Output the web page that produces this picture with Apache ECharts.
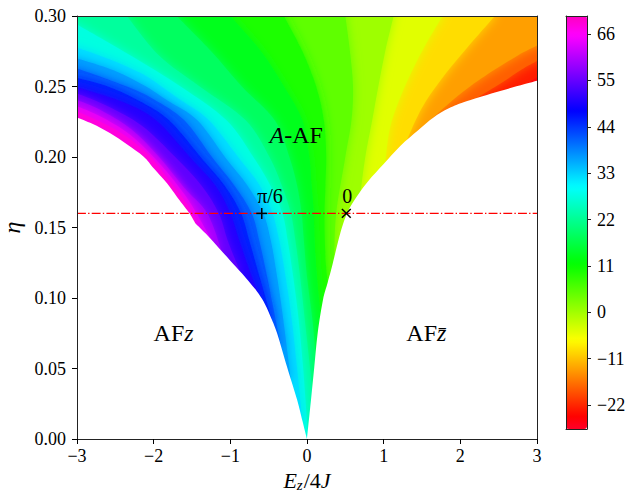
<!DOCTYPE html>
<html><head><meta charset="utf-8">
<script src="https://cdn.jsdelivr.net/npm/echarts@6/dist/echarts.min.js"></script>
<style>html,body{margin:0;padding:0;background:#fff}#c{width:632px;height:493px}</style>
</head><body><div id="c"></div>
<script>
// ---------------- data ----------------
const xTicks = [-3, -2, -1, 0, 1, 2, 3];
const yTicks = [0, 0.05, 0.1, 0.15, 0.2, 0.25, 0.3];
const cbarTicks = [-22, -11, 0, 11, 22, 33, 44, 55, 66];
const cbarMin = -27.7, cbarMax = 70.3;

// boundary of the A-AF region (Ez/4J, eta); the left one has a kink
const leftBoundaryLow = [[0,0],[-0.06,0.013],[-0.13,0.028],[-0.26,0.051],[-0.39,0.075],[-0.48,0.0875],[-0.566,0.0975],[-0.65,0.1045],[-0.75,0.1112],[-0.85,0.1175],[-1.0,0.1265],[-1.15,0.1355],[-1.3,0.1445],[-1.457,0.153]];
const leftBoundaryUp = [[-1.457,0.153],[-1.52,0.159],[-1.565,0.1624],[-1.7,0.172],[-1.826,0.1813],[-2.0,0.192],[-2.13,0.2002],[-2.35,0.209],[-2.566,0.2168],[-2.8,0.2235],[-3.0,0.228]];
const rightBoundary = [[0,0],[0.052,0.0277],[0.095,0.051],[0.139,0.075],[0.208,0.0986],[0.27,0.111],[0.326,0.1223],[0.434,0.1459],[0.53,0.161],[0.65,0.172],[0.8,0.183],[1.0,0.195],[1.22,0.208],[1.45,0.219],[1.65,0.228],[1.85,0.2345],[2.09,0.2397],[2.52,0.2468],[3.0,0.254]];

// contour levels and the iso-lines read at those levels
const levels = [-25, -20, -16, -11, -7, -2, 2.5, 7, 11.5, 16, 20.5, 25, 30, 34, 39, 43, 48, 52, 57, 61, 66];
const isoN25 = [[2.85,0.2518],[3.0,0.257]];
const isoN20 = [[2.2,0.2415],[2.55,0.253],[2.8,0.262],[3.0,0.268]];
const isoN16 = [[1.6,0.2258],[1.85,0.238],[2.1,0.249],[2.45,0.262],[2.75,0.272],[3.0,0.279]];
const isoN11 = [[1.3,0.2118],[1.5,0.235],[1.75,0.255],[2.05,0.275],[2.45,0.3]];
const isoN7  = [[1.02,0.1962],[1.08,0.22],[1.2,0.24],[1.36,0.26],[1.55,0.28],[1.77,0.3]];
const isoN2  = [[0.7,0.1757],[0.76,0.2],[0.85,0.226],[0.93,0.25],[1.02,0.275],[1.13,0.3]];
const isoP2  = [[0.355,0.1288],[0.38,0.16],[0.5,0.2],[0.58,0.226],[0.6,0.25],[0.56,0.275],[0.5,0.3]];
const isoP7  = [[0.27,0.111],[0.24,0.13],[0.23,0.16],[0.25,0.2],[0.22,0.226],[0.12,0.25],[-0.06,0.275],[-0.3,0.3]];
const isoP11 = [[0.177,0.088],[0.13,0.115],[0.1,0.14],[0.09,0.16],[0.06,0.18],[0.03,0.2],[-0.06,0.226],[-0.3,0.25],[-0.6,0.275],[-1.0,0.3]];
const isoP16 = [[0.112,0.06],[0.07,0.085],[0.0,0.115],[-0.04,0.14],[-0.07,0.16],[-0.13,0.18],[-0.23,0.2],[-0.42,0.226],[-0.85,0.25],[-1.25,0.275],[-1.7,0.3]];
const isoP20 = [[0.066,0.035],[0.04,0.05],[-0.03,0.085],[-0.09,0.115],[-0.15,0.14],[-0.21,0.16],[-0.33,0.18],[-0.49,0.2],[-0.8,0.226],[-1.4,0.25],[-1.93,0.272],[-2.35,0.3]];
const isoP25 = [[0.01,0.005],[-0.05,0.05],[-0.11,0.085],[-0.18,0.115],[-0.25,0.14],[-0.32,0.16],[-0.48,0.18],[-0.7,0.2],[-1.05,0.226],[-1.65,0.25],[-2.3,0.272],[-3.0,0.294]];
const isoP30 = [[-0.06,0.013],[-0.13,0.05],[-0.2,0.085],[-0.28,0.115],[-0.36,0.14],[-0.45,0.16],[-0.62,0.18],[-0.9,0.2],[-1.28,0.226],[-1.64,0.24],[-1.9,0.25],[-2.14,0.2586],[-2.575,0.2693],[-3.0,0.2775]];
const isoP34 = [[-0.21,0.0422],[-0.31,0.085],[-0.39,0.115],[-0.47,0.14],[-0.57,0.16],[-0.78,0.18],[-1.07,0.2],[-1.43,0.226],[-1.82,0.24],[-2.1,0.25],[-2.5,0.261],[-3.0,0.27]];
const isoP39 = [[-0.34,0.066],[-0.41,0.085],[-0.52,0.115],[-0.62,0.14],[-0.72,0.16],[-0.95,0.18],[-1.24,0.2],[-1.6,0.226],[-2.0,0.241],[-2.35,0.25],[-3.0,0.263]];
const isoP43 = [[-0.46,0.0847],[-0.54,0.1],[-0.62,0.115],[-0.75,0.14],[-0.86,0.16],[-1.08,0.18],[-1.39,0.2],[-1.8,0.226],[-2.2,0.24],[-2.6,0.25],[-3.0,0.256]];
const isoP48 = [[-0.62,0.1015],[-0.72,0.115],[-0.88,0.14],[-1.0,0.16],[-1.2,0.18],[-1.53,0.2],[-1.97,0.226],[-2.4,0.239],[-3.0,0.2495]];
const isoP52 = [[-0.87,0.1183],[-1.03,0.14],[-1.15,0.16],[-1.38,0.18],[-1.72,0.2],[-2.15,0.222],[-2.6,0.236],[-3.0,0.245]];
const isoP57 = [[-1.11,0.1331],[-1.3,0.16],[-1.6,0.178],[-1.93,0.2],[-2.3,0.22],[-2.7,0.2335],[-3.0,0.2405]];
const isoP61 = [[-1.25,0.1415],[-1.42,0.158],[-1.6,0.1735],[-1.9,0.194],[-2.3,0.2155],[-2.7,0.2289],[-3.0,0.236]];
const isoP66 = [[-1.44,0.152],[-1.52,0.163],[-1.8,0.1835],[-2.1,0.2033],[-2.5,0.2195],[-3.0,0.2325]];

// horizontal cut and marked points
const cutX = [-3, 3];
const cutEta = 0.16;
const markerX = [-0.59, 0.513];
const markerY = [0.16, 0.16];
const markerKind = ['plus', 'cross'];
const markerLabel = ['π/6', '0'];
const markerLabelX = [-0.65, 0.46];
const markerLabelY = [0.1725, 0.1725];

// phase names
const phaseText = ['{i|A}-AF', 'AF{i|z\u0304}', 'AF{i|z}'];
const phaseX = [-0.14, 1.556, -1.74];
const phaseY = [0.2156, 0.0755, 0.0755];

// ---------------- drawing ----------------
const isolines = [isoN25, isoN20, isoN16, isoN11, isoN7, isoN2, isoP2, isoP7, isoP11, isoP16, isoP20,
                  isoP25, isoP30, isoP34, isoP39, isoP43, isoP48, isoP52, isoP57, isoP61, isoP66];
const FONT = "'Liberation Serif', 'DejaVu Serif', serif";

// gist_rainbow colormap
const GR = [[0,[1,0,0.16]],[0.03,[1,0,0]],[0.215,[1,1,0]],[0.4,[0,1,0]],[0.586,[0,1,1]],[0.77,[0,0,1]],[0.954,[1,0,1]],[1,[1,0,0.75]]];
function cmapHex(t) {
  t = Math.max(0, Math.min(1, t));
  let k = 0;
  while (k < GR.length - 2 && t > GR[k + 1][0]) k++;
  const a = GR[k], b = GR[k + 1];
  const f = (t - a[0]) / (b[0] - a[0]);
  const c = a[1].map((v, j) => Math.round(255 * (v + (b[1][j] - v) * f)));
  return '#' + c.map(v => v.toString(16).padStart(2, '0')).join('');
}
const ramp = [];
for (let k = 0; k <= 96; k++) ramp.push(cmapHex(k / 96));

const bandData = [[(cbarMin + levels[0]) / 2, -1]].concat(
  levels.map((L, i) => [(L + (i + 1 < levels.length ? levels[i + 1] : cbarMax)) / 2, i]));

const fmtMinus = v => (v < 0 ? '\u2212' + Math.abs(v) : String(v));

// smooth (Catmull-Rom) path through pixel points
function smoothPath(P, moveFirst) {
  let d = (moveFirst ? 'M' : 'L') + P[0][0].toFixed(2) + ',' + P[0][1].toFixed(2);
  for (let i = 0; i < P.length - 1; i++) {
    const p0 = P[Math.max(0, i - 1)], p1 = P[i], p2 = P[i + 1], p3 = P[Math.min(P.length - 1, i + 2)];
    const c1 = [p1[0] + (p2[0] - p0[0]) / 6, p1[1] + (p2[1] - p0[1]) / 6];
    const c2 = [p2[0] - (p3[0] - p1[0]) / 6, p2[1] - (p3[1] - p1[1]) / 6];
    d += 'C' + c1.map(v => v.toFixed(2)).join(',') + ' ' + c2.map(v => v.toFixed(2)).join(',') + ' ' + p2.map(v => v.toFixed(2)).join(',');
  }
  return d;
}
const linePath = P => P.map(p => 'L' + p[0].toFixed(2) + ',' + p[1].toFixed(2)).join('');

function bandPath(iso, api) {
  const s = iso[0], e = iso[iso.length - 1];
  const far = [];
  if (e[1] >= 0.2999) { far.push([e[0], 0.34], [-3.6, 0.34]); }
  else if (e[0] <= -2.999) { far.push([-3.6, e[1]]); }
  else if (e[0] >= 2.999) { far.push([3.6, e[1]], [3.6, 0.34], [-3.6, 0.34]); }
  far.push([-3.6, -0.04]);
  if (s[0] > 0) far.push([s[0], -0.04]);
  return smoothPath(iso.map(p => api.coord(p)), true) + linePath(far.map(p => api.coord(p))) + 'Z';
}

const lineAxis = (grid, pos, extra) => Object.assign({
  gridIndex: grid, type: 'value', position: pos, z: 10,
  axisLine: { show: true, onZero: false, lineStyle: { color: '#222', width: 1 } },
  axisTick: { show: false }, axisLabel: { show: false }, splitLine: { show: false }
}, extra || {});

const chart = echarts.init(document.getElementById('c'), null, { renderer: 'svg' });
chart.setOption({
  animation: false,
  backgroundColor: '#fff',
  textStyle: { fontFamily: FONT },
  grid: [
    { left: 77, top: 16, width: 460, height: 423, outerBoundsMode: 'none', containLabel: false },
    { left: 566, top: 16, width: 21, height: 413, outerBoundsMode: 'none', containLabel: false }
  ],
  xAxis: [
    lineAxis(0, 'bottom', {
      min: xTicks[0], max: xTicks[xTicks.length - 1], interval: 1,
      axisTick: { show: true, length: 5, lineStyle: { color: '#000' } },
      axisLabel: { show: true, fontFamily: FONT, fontSize: 18, color: '#000', margin: 8, formatter: fmtMinus },
      name: '{i|E}{s|z}{n|/4}{i|J}', nameLocation: 'middle', nameGap: 27,
      nameTextStyle: { fontFamily: FONT, fontSize: 22, color: '#000',
        rich: { i: { fontFamily: FONT, fontSize: 22, fontStyle: 'italic', color: '#000' },
                n: { fontFamily: FONT, fontSize: 22, color: '#000' },
                s: { fontFamily: FONT, fontSize: 15, fontStyle: 'italic', color: '#000', padding: [8, 1, 0, 0] } } }
    }),
    lineAxis(0, 'top', { min: -3, max: 3 }),
    lineAxis(1, 'bottom', { min: 0, max: 1 }),
    lineAxis(1, 'top', { min: 0, max: 1 })
  ],
  yAxis: [
    lineAxis(0, 'left', {
      min: yTicks[0], max: yTicks[yTicks.length - 1], interval: 0.05,
      axisTick: { show: true, length: 5, lineStyle: { color: '#000' } },
      axisLabel: { show: true, fontFamily: FONT, fontSize: 18, color: '#000', margin: 11, formatter: v => v.toFixed(2) },
      name: 'η', nameLocation: 'middle', nameGap: 47, nameRotate: 90,
      nameTextStyle: { fontFamily: FONT, fontSize: 24, fontStyle: 'italic', color: '#000' }
    }),
    lineAxis(0, 'right', { min: 0, max: 0.3 }),
    lineAxis(1, 'left', { min: cbarMin, max: cbarMax }),
    lineAxis(1, 'right', {
      min: cbarMin, max: cbarMax,
      axisTick: { show: true, length: 4, customValues: cbarTicks, lineStyle: { color: '#222' } },
      axisLabel: { show: true, customValues: cbarTicks, fontFamily: FONT, fontSize: 18, color: '#000', margin: 10, formatter: fmtMinus }
    })
  ],
  visualMap: {
    type: 'continuous', min: cbarMin, max: cbarMax, dimension: 0, seriesIndex: 0,
    inRange: { color: ramp }, calculable: false, orient: 'vertical',
    left: 566, top: 16, itemWidth: 21, itemHeight: 413, padding: 0, text: null, z: 4
  },
  series: [
    {
      type: 'custom', xAxisIndex: 0, yAxisIndex: 0, clip: true, z: 2, silent: true,
      data: bandData,
      renderItem: function (params, api) {
        const idx = api.value(1);
        const color = api.visual('color');
        let d;
        if (idx < 0) d = 'M' + [[-3.6, -0.04], [3.6, -0.04], [3.6, 0.34], [-3.6, 0.34]].map(p => api.coord(p).join(',')).join('L') + 'Z';
        else d = bandPath(isolines[idx], api);
        return { type: 'path', z2: idx + 2, shape: { pathData: d },
                 style: { fill: color, stroke: null, shadowBlur: 11, shadowColor: color } };
      }
    },
    {
      type: 'custom', xAxisIndex: 0, yAxisIndex: 0, clip: true, z: 3, silent: true,
      data: [[0, 0], [1, 0]],
      renderItem: function (params, api) {
        const side = api.value(0);
        let d;
        if (side === 0) {
          d = smoothPath(leftBoundaryLow.map(p => api.coord(p)), true)
            + smoothPath(leftBoundaryUp.map(p => api.coord(p)), false)
            + linePath([[-3.6, 0.228], [-3.6, -0.04], [0, -0.04]].map(p => api.coord(p))) + 'Z';
        } else {
          d = smoothPath(rightBoundary.map(p => api.coord(p)), true)
            + linePath([[3.6, 0.254], [3.6, -0.04], [0, -0.04]].map(p => api.coord(p))) + 'Z';
        }
        return { type: 'path', shape: { pathData: d }, style: { fill: '#ffffff', stroke: null } };
      }
    },
    {
      type: 'custom', xAxisIndex: 0, yAxisIndex: 0, clip: true, z: 4, silent: true,
      data: [[cutX[0], cutEta, cutX[1]]],
      renderItem: function (params, api) {
        const a = api.coord([api.value(0), api.value(1)]);
        const b = api.coord([api.value(2), api.value(1)]);
        return { type: 'line', shape: { x1: a[0], y1: a[1], x2: b[0], y2: b[1] },
                 style: { stroke: '#ff0000', lineWidth: 1.1, lineDash: [8.9, 2.2, 1.4, 2.2] } };
      }
    },
    {
      type: 'custom', xAxisIndex: 0, yAxisIndex: 0, clip: false, z: 5, silent: true,
      data: markerX.map((x, i) => [x, markerY[i], i]),
      renderItem: function (params, api) {
        const i = api.value(2);
        const p = api.coord([api.value(0), api.value(1)]);
        const r = 5.5;
        const st = { stroke: '#000', lineWidth: 1.5 };
        const segs = markerKind[i] === 'plus'
          ? [[p[0] - r, p[1], p[0] + r, p[1]], [p[0], p[1] - r, p[0], p[1] + r]]
          : [[p[0] - r * 0.8, p[1] - r * 0.8, p[0] + r * 0.8, p[1] + r * 0.8], [p[0] - r * 0.8, p[1] + r * 0.8, p[0] + r * 0.8, p[1] - r * 0.8]];
        const lp = api.coord([markerLabelX[i], markerLabelY[i]]);
        return { type: 'group', children: segs.map(s => ({ type: 'line', shape: { x1: s[0], y1: s[1], x2: s[2], y2: s[3] }, style: st }))
          .concat([{ type: 'text', x: lp[0], y: lp[1], style: { text: markerLabel[i], fontFamily: FONT, fontSize: 20, fill: '#000', align: 'left', verticalAlign: 'middle' } }]) };
      }
    },
    {
      type: 'custom', xAxisIndex: 0, yAxisIndex: 0, clip: false, z: 5, silent: true,
      data: phaseX.map((x, i) => [x, phaseY[i], i]),
      renderItem: function (params, api) {
        const i = api.value(2);
        const p = api.coord([api.value(0), api.value(1)]);
        return { type: 'text', x: p[0], y: p[1], style: {
          text: phaseText[i], fontFamily: FONT, fontSize: 24, fill: '#000', align: 'center', verticalAlign: 'middle',
          rich: { i: { fontFamily: FONT, fontSize: 24, fontStyle: 'italic', fill: '#000' } } } };
      }
    }
  ]
});
</script>
</body></html>
